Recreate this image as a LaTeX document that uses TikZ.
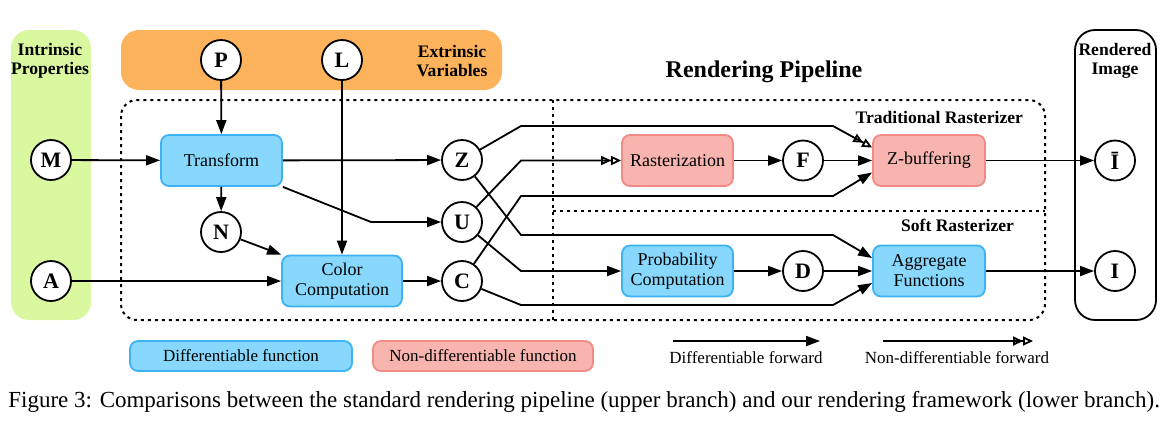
\documentclass[tikz,border=0pt]{standalone}
\usepackage{fontspec}
\setmainfont{Liberation Serif}
\usepackage{tikz}
\usetikzlibrary{arrows.meta,positioning,fit}

\definecolor{diffblue}{HTML}{87D8FC}
\definecolor{diffblueline}{HTML}{3DB2F5}
\definecolor{ndiffred}{HTML}{F8B4AE}
\definecolor{ndiffredline}{HTML}{F28B85}
\definecolor{intrgreen}{HTML}{DAF8A0}
\definecolor{extrorange}{HTML}{FDB35C}

\begin{document}
\begin{tikzpicture}[
    x=0.5pt, y=-0.5pt,
    block/.style={draw, rounded corners=4pt, line width=0.9pt, minimum height=25.5pt, align=center, font=\fontsize{9}{10}\selectfont},
    diff/.style={block, fill=diffblue, draw=diffblueline},
    nondiff/.style={block, fill=ndiffred, draw=ndiffredline},
    var/.style={circle, draw, line width=0.9pt, minimum size=20pt, inner sep=0pt, fill=white, font=\fontsize{11}{12}\selectfont\bfseries},
    tag/.style={align=center, font=\fontsize{8.8}{9.5}\selectfont\bfseries},
    legend/.style={font=\fontsize{8.5}{10}\selectfont},
    arrow/.style={-{Triangle[length=7pt,width=5pt]}, line width=0.9pt},
    ndarrow/.style={-{Triangle[open,length=5pt,width=4.5pt]Triangle[open,length=5pt,width=4.5pt]}, line width=0.9pt},
    phase/.style={rounded corners=9pt, inner sep=0pt},
    pipe/.style={line width=1pt, dash pattern=on 1.5pt off 2pt},
]
    \useasboundingbox (0,0) rectangle (1170,425);

    % Backgrounds
    \node[phase, fill=intrgreen, fit={(11,30) (91,320)}] (intr) {};
    \node[tag] at (50,61) {Intrinsic\\Properties};
    \node[phase, fill=extrorange, fit={(121,30) (502,90)}] (extr) {};
    \node[tag] at (452,61) {Extrinsic\\Variables};
    \draw[line width=0.9pt, rounded corners=10pt] (1075,30) rectangle (1156,320);
    \node[tag] at (1115,61) {Rendered\\Image};

    % Pipeline frame
    \draw[pipe, rounded corners=8pt] (121,100) rectangle (1045,320);
    \draw[pipe] (553,100) -- (553,320);
    \draw[pipe] (553,211) -- (1045,211);
    \node[tag, font=\fontsize{12}{13}\selectfont\bfseries] at (764,72) {Rendering Pipeline};
    \node[tag, anchor=east] at (1030,117) {Traditional Rasterizer};
    \node[tag, anchor=east] at (1021,225) {Soft Rasterizer};

    % Inputs
    \node[var] (M) at (51,160) {M};
    \node[var] (A) at (51,281) {A};
    \node[var] (P) at (221,60) {P};
    \node[var] (L) at (342,60) {L};

    % Geometry stage
    \node[diff, minimum width=60.5pt] (trans) at (221.5,160.5) {Transform};
    \node[var] (N) at (221,232) {N};
    \node[diff, minimum width=60pt] (color) at (342,281) {Color\\Computation};
    \node[var] (Z) at (462,160) {Z};
    \node[var] (U) at (462,222) {U};
    \node[var] (C) at (462,281) {C};

    \draw[arrow] (M) -- (trans);
    \draw[arrow] (P) -- (trans);
    \draw[arrow] (trans) -- (N);
    \draw[arrow] (N) -- (color.north west);
    \draw[arrow] (L) -- (color);
    \draw[arrow] (A) -- (color);
    \draw[arrow] (trans) -- (Z);
    \draw[arrow] (trans.south east) -- (371,222) -- (U);
    \draw[arrow] (color) -- (C);

    % --- TRADITIONAL ---
    \node[nondiff, minimum width=55.5pt] (rast) at (677.5,160.5) {Rasterization};
    \node[var] (F) at (803,160.5) {F};
    \node[nondiff, minimum width=56pt] (zbuf) at (929,160.5) {Z-buffering};
    \node[var] (Ibar) at (1115,160.5) {Ī};

    \draw[ndarrow] (Z) -- (521,126) -- (833,126) -- ([yshift=6.5pt]zbuf.west);
    \draw[ndarrow] (U) -- (521,160.5) -- (rast);
    \draw[arrow] (C) -- (521,196) -- (833,196) -- ([yshift=-6pt]zbuf.west);
    \draw[arrow] (rast) -- (F);
    \draw[arrow] (F) -- (zbuf);
    \draw[arrow] (zbuf) -- (Ibar);

    % --- SOFT ---
    \node[diff, minimum width=55.5pt] (prob) at (677.5,271) {Probability\\Computation};
    \node[var] (D) at (803,271) {D};
    \node[diff, minimum width=56pt] (agg) at (929,271) {Aggregate\\Functions};
    \node[var] (I) at (1115,271) {I};

    \draw[arrow] (Z) -- (521,235) -- (833,235) -- ([yshift=6.5pt]agg.west);
    \draw[arrow] (U) -- (521,271) -- (prob);
    \draw[arrow] (C) -- (521,305) -- (833,305) -- ([yshift=-6pt]agg.west);
    \draw[arrow] (prob) -- (D);
    \draw[arrow] (D) -- (agg);
    \draw[arrow] (agg) -- (I);

    % Legend
    \node[diff, legend, minimum width=111pt, minimum height=15pt] (legdiff) at (241,356) {Differentiable function};
    \node[nondiff, legend, minimum width=110pt, minimum height=15pt] (legnondiff) at (483,356) {Non-differentiable function};
    \coordinate (dstart) at (673,341);
    \coordinate (dend) at (820,341);
    \draw[arrow] (dstart) -- (dend);
    \node[legend] (dtext) at (746,358) {Differentiable forward};
    \coordinate (ndstart) at (883,341);
    \coordinate (ndend) at (1033,341);
    \draw[ndarrow] (ndstart) -- (ndend);
    \node[legend] (ndtext) at (957,358) {Non-differentiable forward};

    % Caption
    \node[anchor=west, inner sep=0pt, font=\fontsize{11.5}{13}\selectfont] (caption) at (8,402) {Figure 3: Comparisons between the standard rendering pipeline (upper branch) and our rendering framework (lower branch).};
\end{tikzpicture}
\end{document}
